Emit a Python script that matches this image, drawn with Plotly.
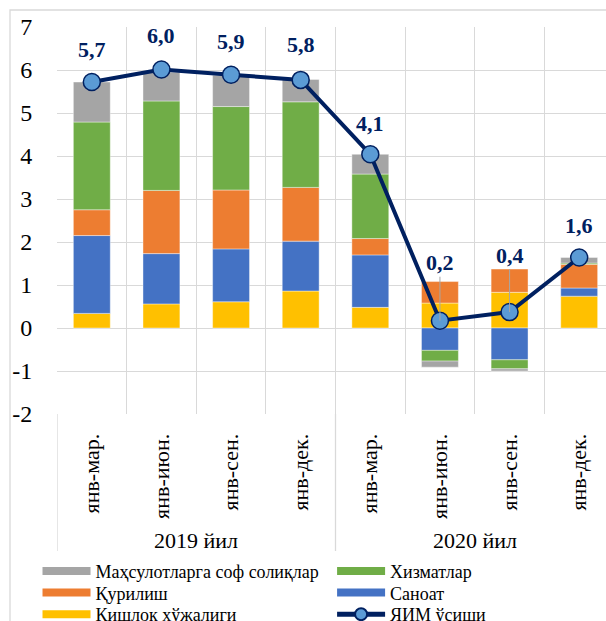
import plotly.graph_objects as go

periods = ["янв-мар.", "янв-июн.", "янв-сен.", "янв-дек.", "янв-мар.", "янв-июн.", "янв-сен.", "янв-дек."]
years = ["2019 йил", "2020 йил"]
y_ticks = [-2, -1, 0, 1, 2, 3, 4, 5, 6, 7]

agri = [0.34, 0.56, 0.61, 0.86, 0.48, 0.58, 0.83, 0.74]      # Қишлоқ хўжалиги
industry = [1.81, 1.17, 1.23, 1.16, 1.22, -0.52, -0.74, 0.19]  # Саноат
constr = [0.60, 1.47, 1.37, 1.25, 0.38, 0.50, 0.54, 0.55]     # Қурилиш
services = [2.04, 2.08, 1.94, 1.99, 1.50, -0.25, -0.21, 0.03] # Хизматлар
taxes = [0.93, 0.67, 0.73, 0.52, 0.46, -0.14, -0.05, 0.13]    # Маҳсулотларга соф солиқлар
gdp = [5.72, 6.01, 5.89, 5.77, 4.04, 0.17, 0.37, 1.64]        # ЯИМ ўсиши
gdp_labels = ["5,7", "6,0", "5,9", "5,8", "4,1", "0,2", "0,4", "1,6"]

# label offsets (px) above points
label_ay = [-33, -34, -33, -35, -31, -58, -57, -32]

FONT = "Liberation Serif"
NAVY = "#002060"
GRID = "#d9d9d9"

x = list(range(len(periods)))

# legend slots: (x, y) in container coords, two columns by three rows
LEG_X = [0.0619, 0.548]
LEG_Y = [0.110, 0.0752, 0.0403]

# (name, values, colour, legend id)
series = [
    ("Қишлоқ хўжалиги", agri, "#ffc000", "legend5"),
    ("Саноат", industry, "#4472c4", "legend4"),
    ("Қурилиш", constr, "#ed7d31", "legend3"),
    ("Хизматлар", services, "#70ad47", "legend2"),
    ("Маҳсулотларга соф солиқлар", taxes, "#a5a5a5", "legend"),
]

fig = go.Figure()
for name, vals, col, lg in series:
    fig.add_trace(go.Bar(x=x, y=vals, name=name,
                         marker=dict(color=col, line=dict(color="rgba(255,255,255,0.5)", width=0.8)),
                         showlegend=False, width=0.53))
for name, vals, col, lg in series:
    fig.add_trace(go.Scatter(x=[None], y=[None], mode="lines", name=name, legend=lg,
                             line=dict(color=col, width=8)))

fig.add_trace(go.Scatter(x=x, y=gdp, name="ЯИМ ўсиши", mode="lines+markers", legend="legend6",
                         line=dict(color=NAVY, width=4),
                         marker=dict(size=17, color="#5b9bd5", line=dict(color=NAVY, width=1.5))))

for i, (v, t) in enumerate(zip(gdp, gdp_labels)):
    leader = label_ay[i] < -45
    fig.add_annotation(x=x[i], y=v, text="<b>%s</b>" % t, showarrow=True, arrowhead=0,
                       arrowwidth=1, arrowcolor="#a6a6a6" if leader else "rgba(0,0,0,0)",
                       ax=0, ay=label_ay[i], standoff=0,
                       font=dict(family=FONT, size=22, color=NAVY))

# group labels
for gi, yl in enumerate(years):
    fig.add_annotation(x=1.5 + 4 * gi, y=-0.328, xref="x", yref="paper", text=yl, showarrow=False,
                       font=dict(family=FONT, size=22, color="black"), yanchor="middle")

# group dividers in the category area
for xv in [-0.5, 3.5]:
    fig.add_shape(type="line", xref="x", yref="paper", x0=xv, x1=xv, y0=0, y1=-0.354,
                  line=dict(color=GRID, width=1.3))

# chart border
fig.add_shape(type="rect", xref="paper", yref="paper", x0=-0.0856, x1=1.05, y0=-0.7, y1=1.0439,
              line=dict(color=GRID, width=1.3))

leg_common = dict(orientation="h", xref="container", yref="container", xanchor="left", yanchor="top",
                  font=dict(family=FONT, size=18, color="black"), itemwidth=48,
                  tracegroupgap=0, bgcolor="rgba(0,0,0,0)")

legends = {}
ids = ["legend", "legend2", "legend3", "legend4", "legend5", "legend6"]
for k, lid in enumerate(ids):
    legends[lid] = dict(x=LEG_X[k % 2], y=LEG_Y[k // 2], **leg_common)
legends["legend6"]["itemsizing"] = "constant"

fig.update_layout(
    width=606, height=621,
    margin=dict(l=57, r=0, t=27, b=207),
    barmode="relative",
    plot_bgcolor="white", paper_bgcolor="white",
    font=dict(family=FONT, color="black"),
    showlegend=True,
    **legends,
)
fig.update_xaxes(range=[-0.5, 7.385], tickvals=x, ticktext=periods, tickangle=-90,
                 tickfont=dict(family=FONT, size=22, color="black"), automargin=False,
                 showgrid=False, zeroline=False, showline=False,
                 ticks="outside", ticklen=10, tickcolor="rgba(0,0,0,0)",
                 minor=dict(tickvals=[i - 0.5 for i in range(len(periods) + 1)], showgrid=True,
                            gridcolor=GRID, gridwidth=1.3, ticks=""))
fig.update_yaxes(range=[-2, 7], tickvals=y_ticks, ticktext=[str(v) for v in y_ticks],
                 tickfont=dict(family=FONT, size=24, color="black"),
                 automargin=False,
                 showgrid=True, gridcolor=GRID, gridwidth=1.3, zeroline=False, showline=False,
                 ticks="outside", ticklen=19, tickcolor="rgba(0,0,0,0)")

fig.write_html("out.html", config={"displayModeBar": False},
               post_script="document.body.style.margin='0';document.body.style.padding='0';")
